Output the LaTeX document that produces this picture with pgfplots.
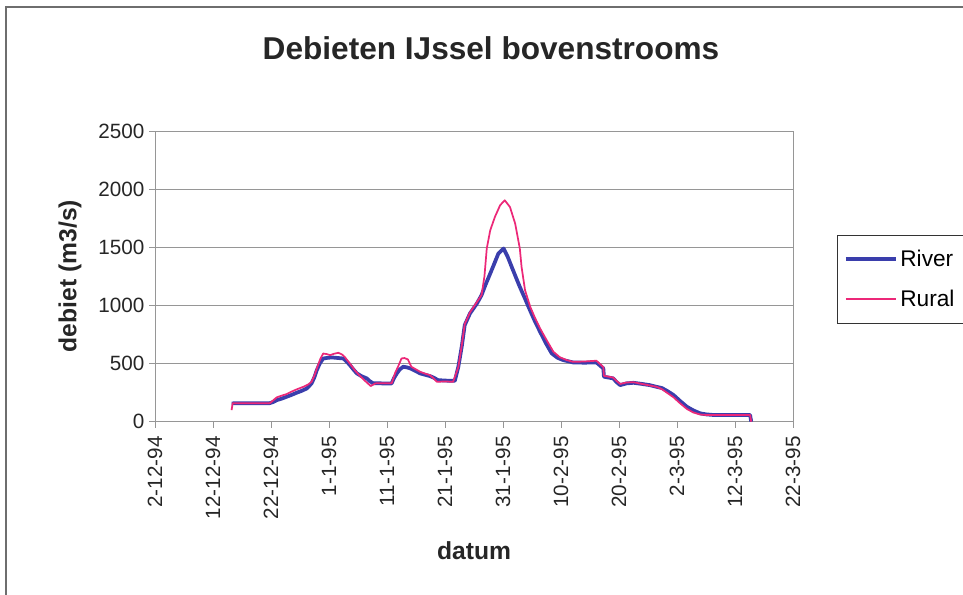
\documentclass[border=0pt]{standalone}
\usepackage{fontspec}
\setmainfont{Liberation Sans}
\usepackage{pgfplots}
\pgfplotsset{compat=1.18}

\definecolor{riverblue}{RGB}{58,62,172}
\definecolor{ruralpink}{RGB}{236,40,120}
\definecolor{framegray}{RGB}{110,110,110}
\definecolor{gridgray}{RGB}{150,150,150}

% days counted from 2-12-94
\pgfplotstableread{
day  q
13.2 158
19.8 160
20.4 170
21.0 186
21.8 198
22.7 215
23.5 230
24.4 249
25.3 266
26.2 287
27.0 330
27.5 385
27.9 444
28.4 500
29.0 544
29.8 550
30.5 553
31.4 549
32.5 544
33.0 520
33.6 487
34.2 450
34.8 416
35.6 392
36.5 373
37.0 350
37.6 330
38.5 332
39.6 328
40.8 330
41.2 375
41.7 416
42.2 450
42.8 473
43.4 468
44.0 459
44.8 440
45.7 416
46.5 405
47.4 393
48.1 378
48.8 358
50.0 354
51.7 352
52.3 473
52.9 650
53.4 831
54.3 931
55.5 1017
56.3 1089
57.0 1180
57.8 1275
58.5 1360
59.2 1447
60.1 1490
60.8 1420
61.5 1332
62.2 1245
62.9 1160
63.7 1070
64.4 988
65.4 875
66.4 773
67.4 675
68.4 588
69.4 550
70.4 530
72.1 510
74.0 508
76.1 510
77.3 459
77.4 387
78.2 380
79.0 373
79.6 340
80.2 315
81.3 330
82.5 335
84.0 325
85.3 315
86.5 300
87.4 290
88.4 262
89.4 230
90.5 180
91.7 129
92.8 98
94.0 72
95.1 63
96.3 58
99.0 58
102.6 58
102.8 0
}\riverdata

\pgfplotstableread{
day  q
13.2 100
13.4 160
19.8 160
20.4 185
21.0 210
21.8 224
22.7 238
23.5 258
24.4 278
25.6 301
26.4 320
27.0 344
27.5 400
27.9 459
28.5 540
29.0 587
29.6 582
30.2 573
30.9 585
31.6 593
32.2 580
32.7 558
33.3 520
33.8 487
34.5 440
35.2 401
36.2 352
37.2 307
38.0 330
39.4 332
40.8 330
41.4 420
41.9 473
42.5 544
43.0 548
43.6 536
44.2 473
45.0 450
45.7 430
46.5 415
47.4 401
48.0 375
48.6 344
50.0 346
51.4 344
52.3 470
52.9 660
53.4 840
54.3 940
55.5 1030
56.3 1089
56.8 1250
57.2 1490
57.8 1647
58.6 1761
59.5 1862
60.3 1905
61.2 1847
62.1 1704
62.9 1490
63.2 1332
63.8 1131
64.7 988
65.5 895
66.4 802
67.6 695
68.7 601
69.8 555
71.0 530
72.1 515
74.0 518
76.1 525
77.3 470
77.4 395
78.2 388
79.0 380
79.6 350
80.2 325
81.3 338
82.5 340
84.0 325
85.3 312
86.5 300
87.4 280
88.4 245
89.4 210
90.5 160
91.7 110
92.8 80
94.0 62
95.1 58
96.3 58
99.0 58
102.6 58
102.8 0
}\ruraldata

\begin{document}
\begin{tikzpicture}
\useasboundingbox (0pt,0pt) rectangle (722.25pt,-445.5pt);

% chart area border
\draw[framegray, line width=0.9pt] (4.5pt,-450pt) -- (4.5pt,-5.25pt) -- (730pt,-5.25pt);

\begin{axis}[
  at={(116.25pt,-316.3pt)}, anchor=south west,
  scale only axis,
  width=478.5pt, height=218pt,
  xmin=0, xmax=110, ymin=0, ymax=2500,
  xtick={0,10,...,110},
  xticklabels={2-12-94,12-12-94,22-12-94,1-1-95,11-1-95,21-1-95,31-1-95,10-2-95,20-2-95,2-3-95,12-3-95,22-3-95},
  ytick={0,500,...,2500},
  /pgf/number format/assume math mode=true,
  /pgf/number format/1000 sep={},
  tick label style={font=\fontsize{15.5}{18}\selectfont, text=black!85},
  xticklabel style={rotate=90, anchor=east},
  xticklabel shift=3pt,
  tick align=outside,
  major tick length=4.5pt,
  tick style={gridgray, line width=0.6pt},
  xtick pos=bottom, ytick pos=left,
  axis line style={gridgray, line width=0.7pt},
  ymajorgrids,
  major grid style={gridgray, line width=0.6pt},
  legend style={at={(1.069,0.6423)}, anchor=north west, draw=black!80,
    font=\fontsize{17}{20}\selectfont, legend cell align=left,
    inner xsep=5pt, inner ysep=9pt, row sep=12pt},
  legend image code/.code={\draw[#1] (0pt,0pt) -- (37.5pt,0pt);},
]
\addplot[riverblue, line width=2.8pt, line join=round] table[x=day, y=q] {\riverdata};
\addlegendentry{River}
\addplot[ruralpink, line width=1.3pt, line join=round] table[x=day, y=q] {\ruraldata};
\addlegendentry{Rural}
\end{axis}

\begin{scope}[x=0.75pt, y=-0.75pt]
\node[font=\fontsize{23.7}{28}\selectfont\bfseries, text=black!85] at (491,48) {Debieten IJssel bovenstrooms};
\node[font=\fontsize{18.5}{22}\selectfont\bfseries, text=black!85] at (474,551) {datum};
\node[font=\fontsize{18.5}{22}\selectfont\bfseries, text=black!85, rotate=90] at (70,276) {debiet (m3/s)};
\end{scope}
\end{tikzpicture}
\end{document}
